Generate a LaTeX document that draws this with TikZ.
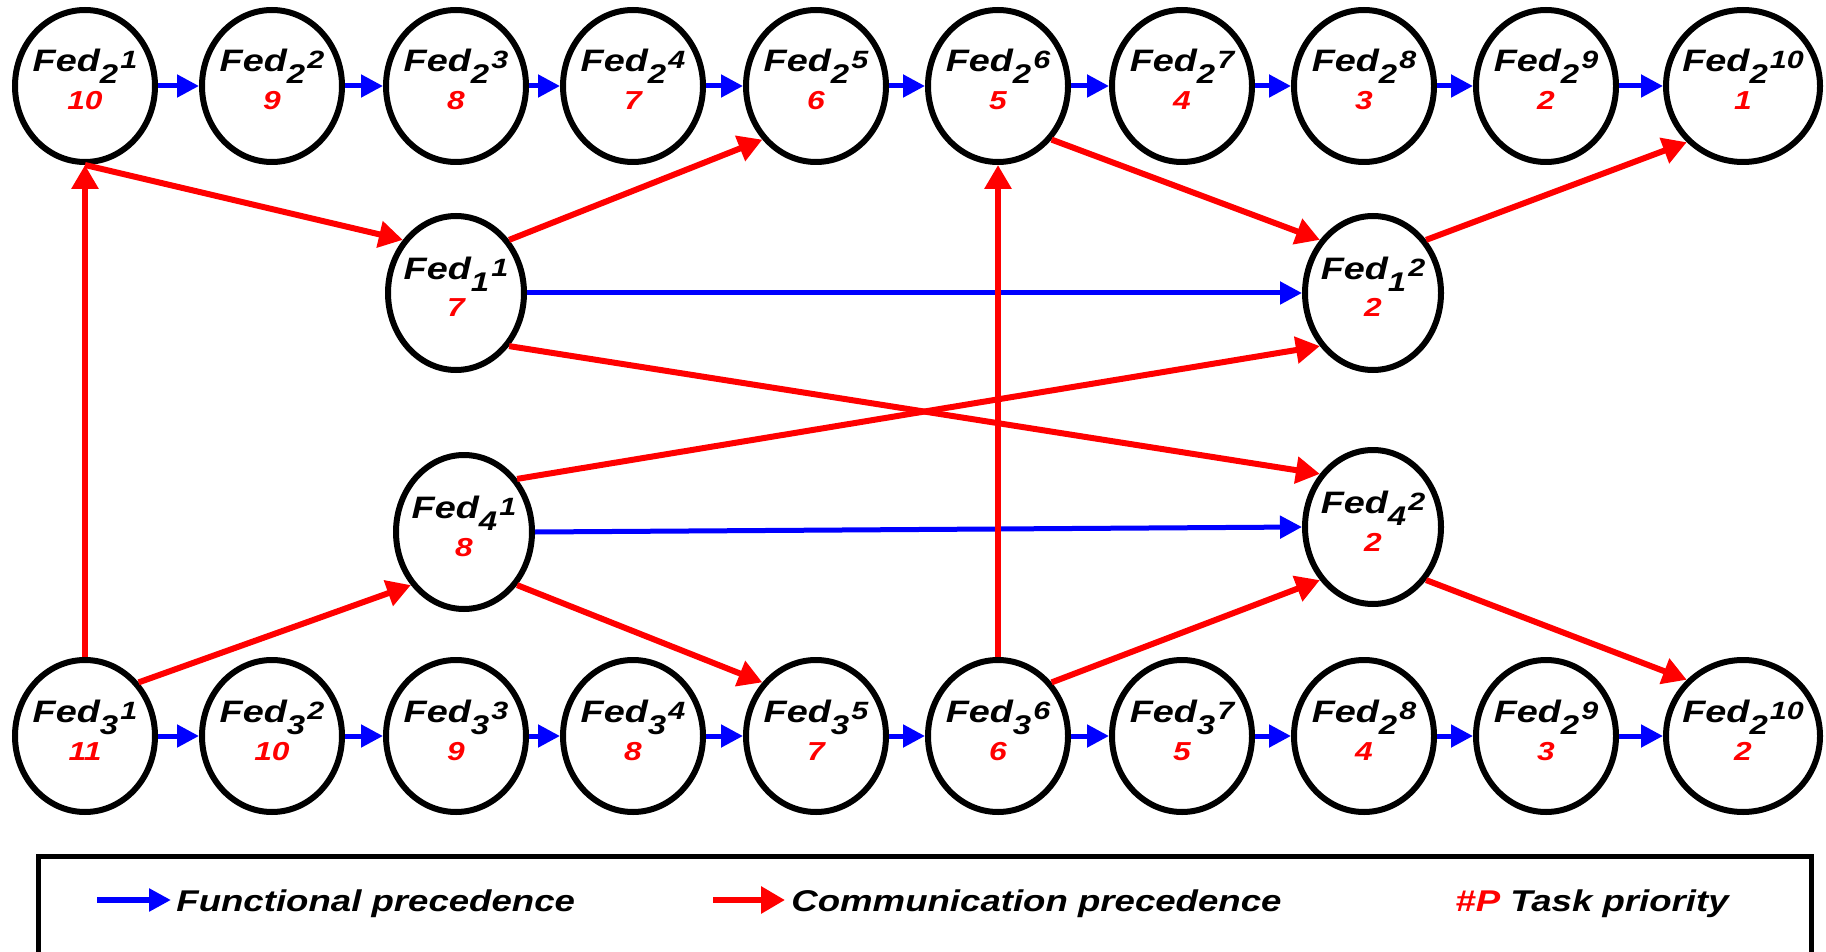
\documentclass[tikz,border=0pt]{standalone}
\usepackage{fontspec}
\setmainfont{Liberation Sans}[FakeStretch=1.22]
\usetikzlibrary{arrows.meta,shapes.geometric}

\definecolor{fblue}{RGB}{0,0,255}
\definecolor{fred}{RGB}{255,0,0}

\newcommand\fsub[1]{\raisebox{-6pt}{\fontsize{13.5}{13.5}\selectfont #1}}
\newcommand\fsup[1]{\kern1pt\raisebox{1.5pt}{\fontsize{12.5}{12.5}\selectfont #1}}

\tikzset{
  fed/.style={ellipse, draw=black, line width=3pt, fill=white, inner sep=0pt,
              minimum width=70pt, minimum height=76pt},
  fedbig/.style={fed, minimum width=77pt},
  fedmid/.style={fed, minimum width=68pt, minimum height=77pt},
  fedname/.style={anchor=base, inner sep=0pt, text=black,
                  font=\fontsize{15.5}{15.5}\selectfont\bfseries\itshape},
  fedprio/.style={anchor=base, inner sep=0pt, text=fred,
                  font=\fontsize{13}{13}\selectfont\bfseries\itshape},
  farrow/.style={draw=fblue, line width=2.5pt, -{Triangle[length=11pt,width=11pt]}},
  carrow/.style={draw=fred, line width=3pt, -{Triangle[length=12pt,width=13pt]}},
  legtext/.style={anchor=base west, inner sep=0pt, text=black,
                  font=\fontsize{15}{15}\selectfont\bfseries\itshape},
}

\newcommand\fednode[7]{%
  \node[#1] (#2) at (#3,#4) {};
  \node[fedname] (#2n) at (#3,#4-14) {Fed\fsub{#5}\fsup{#6}};
  \node[fedprio] (#2p) at (#3,#4+24) {#7};
}

\begin{document}
\begin{tikzpicture}[x=0.5pt,y=-0.5pt]
\useasboundingbox (0,0) rectangle (1826,952);

% top row
\fednode{fed}{a1}{85}{86}{2}{1}{10}
\fednode{fed}{a2}{272}{86}{2}{2}{9}
\fednode{fed}{a3}{456}{86}{2}{3}{8}
\fednode{fed}{a4}{633}{86}{2}{4}{7}
\fednode{fed}{a5}{816}{86}{2}{5}{6}
\fednode{fed}{a6}{998}{86}{2}{6}{5}
\fednode{fed}{a7}{1182}{86}{2}{7}{4}
\fednode{fed}{a8}{1364}{86}{2}{8}{3}
\fednode{fed}{a9}{1546}{86}{2}{9}{2}
\fednode{fedbig}{a10}{1743}{86}{2}{10}{1}

% bottom row
\fednode{fed}{b1}{85}{736}{3}{1}{11}
\fednode{fed}{b2}{272}{736}{3}{2}{10}
\fednode{fed}{b3}{456}{736}{3}{3}{9}
\fednode{fed}{b4}{633}{736}{3}{4}{8}
\fednode{fed}{b5}{816}{736}{3}{5}{7}
\fednode{fed}{b6}{998}{736}{3}{6}{6}
\fednode{fed}{b7}{1182}{736}{3}{7}{5}
\fednode{fed}{b8}{1364}{736}{2}{8}{4}
\fednode{fed}{b9}{1546}{736}{2}{9}{3}
\fednode{fedbig}{b10}{1743}{736}{2}{10}{2}

% middle nodes
\fednode{fedmid}{m11}{456}{293}{1}{1}{7}
\fednode{fedmid}{m12}{1373}{293}{1}{2}{2}
\fednode{fedmid}{m41}{464}{532}{4}{1}{8}
\fednode{fedmid}{m42}{1373}{527}{4}{2}{2}

% functional precedence
\foreach \i/\j in {1/2,2/3,3/4,4/5,5/6,6/7,7/8,8/9,9/10}{
  \draw[farrow] (a\i.east) -- (a\j.west);
  \draw[farrow] (b\i.east) -- (b\j.west);
}
\draw[farrow] (m11.east) -- (m12.west);
\draw[farrow] (m41.east) -- (m42.west);

% communication precedence
\draw[carrow] (b1.north) -- (a1.south);
\draw[carrow] (a1.south) -- (m11.135);
\draw[carrow] (m11.45) -- (a5.225);
\draw[carrow] (a6.-45) -- (m12.135);
\draw[carrow] (m12.45) -- (a10.225);
\draw[carrow] (m11.-45) -- (m42.135);
\draw[carrow] (m41.45) -- (m12.225);
\draw[carrow] (b1.45) -- (m41.225);
\draw[carrow] (m41.-45) -- (b5.135);
\draw[carrow] (b6.north) -- (a6.south);
\draw[carrow] (b6.45) -- (m42.225);
\draw[carrow] (m42.-45) -- (b10.135);

% legend
\draw[line width=2.5pt] (38,952) -- (38,856) -- (1811,856) -- (1811,952);
\coordinate (lf1) at (97,900);
\coordinate (lf2) at (171,900);
\draw[farrow, line width=3pt] (lf1) -- (lf2);
\node[legtext] (lft) at (176,911) {Functional precedence};
\coordinate (lc1) at (713,900);
\coordinate (lc2) at (785,900);
\draw[carrow] (lc1) -- (lc2);
\node[legtext] (lct) at (791,911) {Communication precedence};
\node[legtext] (lpt) at (1455,911) {\textcolor{fred}{\#P} Task priority};
\end{tikzpicture}
\end{document}
